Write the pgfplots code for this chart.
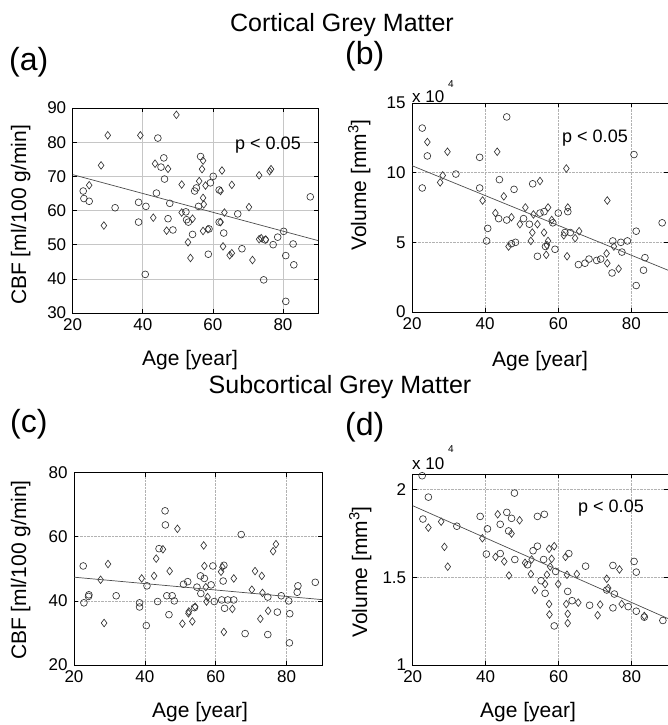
\documentclass[border=0pt]{standalone}
\usepackage{fontspec}
\setmainfont{Liberation Sans}
\usepackage{pgfplots}
\pgfplotsset{compat=1.18}

\newcommand{\fs}[1]{\fontsize{#1}{#1}\selectfont}

\pgfplotsset{
  panel/.style={
    scale only axis, anchor=south west,
    xmin=20, xmax=90, xtick={20,40,60,80},
    tick align=inside, major tick length=4pt,
    axis line style={black, line width=0.9pt},
    tick style={black, line width=0.6pt},
    ticklabel style={font=\fs{17}},
    yticklabel style={xshift=-3pt},
    xticklabel style={yshift=-2pt},
    /pgf/number format/assume math mode=true,
    grid=major, major grid style={gray!60, densely dotted, line width=0.6pt},
    clip mode=individual,
  },
  circ/.style={only marks, mark=o, mark size=3.4pt, mark options={black!80, line width=0.65pt}},
  diam/.style={only marks, mark=diamond, mark size=3.8pt, mark options={black!80, line width=0.65pt}},
  fitl/.style={black!70, line width=0.7pt, no markers},
}

\begin{document}
\begin{tikzpicture}
\path[use as bounding box] (0pt,0pt) rectangle (668pt,725pt);

% ---- titles and panel letters
\node[anchor=base, font=\fs{25}] at (342pt,693pt) {Cortical Grey Matter};
\node[anchor=base, font=\fs{25}] at (340pt,331pt) {Subcortical Grey Matter};
\node[anchor=base west, inner sep=0pt, font=\fs{32}] at (9pt,654pt) {(a)};
\node[anchor=base west, inner sep=0pt, font=\fs{32}] at (345pt,660pt) {(b)};
\node[anchor=base west, inner sep=0pt, font=\fs{32}] at (10pt,292pt) {(c)};
\node[anchor=base west, inner sep=0pt, font=\fs{32}] at (345pt,289pt) {(d)};

% ---- (a) cortical CBF
\begin{axis}[panel, at={(72.7pt,412pt)}, width=245.3pt, height=205pt,
  ymin=30, ymax=90, ytick={30,40,...,90},
  major grid style={gray!45, solid, line width=0.6pt}]
\addplot[circ] coordinates {
(44.3,81.2) (56.5,75.8) (46.0,75.4) (45.2,72.7) (46.2,69.2) (60.1,70.0) (59.3,68.1)
(55.3,66.6) (61.8,66.0) (43.9,65.1) (54.8,65.7) (23.0,65.7) (23.2,63.5) (24.7,62.7)
(32.1,60.8) (38.8,62.4) (40.9,61.2) (55.9,61.2) (47.7,62.1) (52.3,59.6) (67.1,59.0)
(87.8,64.0) (38.8,56.6) (47.2,57.6) (52.5,57.3) (53.0,56.6) (48.6,54.3) (58.9,54.6)
(61.8,56.6) (54.2,53.0) (63.1,53.4) (58.7,47.2) (68.3,48.8) (74.9,51.4) (77.2,50.0)
(78.5,52.2) (80.2,53.9) (82.9,50.2) (80.8,46.8) (83.1,44.1) (74.5,39.7) (40.7,41.3)
(80.8,33.4)};
\addplot[diam] coordinates {
(49.6,88.0) (30.0,82.0) (39.3,82.0) (57.2,74.6) (28.1,73.2) (43.5,73.7) (47.2,72.2)
(56.9,72.1) (62.6,71.7) (76.6,72.1) (76.2,71.5) (73.2,70.3) (56.1,68.6) (51.1,67.6)
(57.9,67.3) (62.2,65.7) (65.4,67.5) (24.7,67.4) (57.2,63.7) (57.4,61.8) (51.1,59.4)
(63.3,59.4) (70.3,61.0) (28.9,55.6) (43.0,57.9) (54.2,57.6) (46.8,54.1) (57.2,54.0)
(58.6,54.5) (62.2,56.6) (52.9,50.7) (62.9,49.5) (53.6,46.1) (64.8,46.9) (65.4,47.5)
(71.3,45.5) (73.2,51.6) (73.8,51.9) (75.1,51.5)};
\addplot[fitl] coordinates {(20,70.5) (90,51.2)};
\end{axis}

% ---- (b) cortical volume (x 10^4)
\begin{axis}[panel, at={(412pt,413pt)}, width=256pt, height=209pt,
  ymin=0, ymax=15, ytick={0,5,10,15}]
\addplot[circ] coordinates {
(22.8,13.2) (24.2,11.2) (22.8,8.9) (45.9,14.0) (38.5,11.1) (80.7,11.3) (32.0,9.9)
(43.9,9.5) (38.5,8.9) (47.9,8.8) (53.0,9.2) (88.4,6.4) (81.3,5.8) (40.7,6.0) (40.4,5.1)
(43.7,6.7) (45.9,6.6) (50.5,6.7) (52.1,6.3) (55.0,7.1) (56.1,7.2) (58.5,6.4) (60.0,7.1)
(62.6,7.2) (56.5,4.7) (59.1,4.5) (54.3,4.0) (47.2,4.9) (48.3,5.0) (61.8,5.7) (63.3,5.7)
(65.5,3.4) (67.3,3.5) (68.4,3.8) (70.5,3.7) (71.6,3.8) (74.7,2.8) (74.9,5.1) (77.1,5.0)
(77.4,4.3) (78.9,5.1) (83.7,3.9) (83.3,3.0) (81.3,1.9)};
\addplot[diam] coordinates {
(24.2,12.2) (29.7,11.5) (43.3,11.5) (28.4,9.8) (27.7,9.3) (62.2,10.3) (39.3,8.0)
(45.1,8.3) (55.0,9.4) (73.4,8.0) (42.8,7.1) (47.2,6.8) (51.0,7.5) (49.5,6.3) (53.2,7.0)
(57.2,7.5) (54.3,6.3) (52.9,5.7) (56.1,5.7) (58.2,6.6) (62.6,7.5) (52.5,5.1) (57.2,5.1)
(56.9,4.8) (56.7,4.1) (46.4,4.7) (61.5,5.5) (65.7,5.8) (64.6,5.3) (62.4,4.0) (73.2,4.2)
(73.4,3.5) (76.5,3.1) (75.2,4.7)};
\addplot[fitl] coordinates {(20,10.5) (90,3.0)};
\end{axis}

% ---- (c) subcortical CBF
\begin{axis}[panel, at={(74pt,60pt)}, width=248pt, height=192.3pt,
  ymin=20, ymax=80, ytick={20,40,60,80}]
\addplot[circ] coordinates {
(22.6,50.9) (22.8,39.4) (24.2,41.9) (24.1,41.4) (31.9,41.6) (38.5,39.4) (38.5,38.1)
(40.6,44.7) (40.4,32.3) (44.0,56.3) (45.7,68.1) (45.8,63.7) (43.6,39.8) (46.2,41.6)
(47.7,41.6) (48.3,40.0) (46.8,35.7) (50.9,45.2) (52.1,46.0) (54.0,37.9) (54.7,44.3)
(55.7,47.8) (56.8,47.0) (59.2,50.9) (55.8,42.3) (58.7,45.0) (59.6,39.8) (62.3,51.1)
(62.1,46.2) (61.7,40.3) (63.4,40.3) (65.1,40.3) (62.5,37.7) (67.2,60.7) (68.3,29.8)
(74.7,41.2) (77.4,36.5) (74.7,29.5) (78.5,41.6) (80.6,40.0) (80.9,36.0) (80.8,26.9)
(83.2,44.7) (83.0,42.7) (88.1,45.8)};
\addplot[diam] coordinates {
(29.6,51.5) (27.5,46.6) (28.5,33.1) (39.1,47.0) (42.6,47.8) (43.2,53.2) (45.1,56.1)
(49.2,62.5) (47.0,49.3) (50.6,32.9) (52.4,36.7) (52.3,36.1) (54.2,38.2) (53.4,33.6)
(56.6,57.3) (56.8,50.9) (57.2,44.3) (57.4,39.8) (57.7,41.2) (61.9,50.5) (61.5,49.1)
(65.1,47.0) (64.7,37.5) (62.3,30.3) (71.1,49.3) (73.0,47.8) (70.2,43.5) (73.2,42.5)
(72.6,34.4) (74.8,36.9) (77.0,57.7) (76.2,55.5)};
\addplot[fitl] coordinates {(20,47.4) (90,40.4)};
\end{axis}

% ---- (d) subcortical volume (x 10^4)
\begin{axis}[panel, at={(412.7pt,60pt)}, width=255.3pt, height=191pt,
  ymin=1, ymax=2.09, ytick={1,1.5,2}]
\addplot[circ] coordinates {
(22.6,2.080) (24.3,1.958) (22.8,1.833) (32.1,1.792) (38.5,1.848) (40.5,1.777)
(40.2,1.633) (45.8,1.871) (44.0,1.803) (47.1,1.837) (47.9,1.981) (46.3,1.765)
(44.0,1.636) (48.0,1.602) (51.5,1.572) (53.0,1.652) (54.2,1.678) (54.2,1.848)
(56.1,1.860) (55.9,1.602) (59.2,1.534) (55.2,1.481) (56.3,1.409) (58.8,1.223)
(62.8,1.636) (62.5,1.420) (63.7,1.367) (67.4,1.564) (68.5,1.341) (73.2,1.428)
(74.9,1.568) (75.3,1.405) (74.9,1.326) (79.1,1.333) (81.3,1.307) (80.7,1.591)
(81.3,1.530) (83.5,1.273) (88.6,1.254)};
\addplot[diam] coordinates {
(24.3,1.784) (27.8,1.818) (28.7,1.674) (29.6,1.561) (39.1,1.723) (42.7,1.617)
(43.3,1.860) (49.3,1.826) (47.1,1.750) (45.1,1.591) (46.4,1.511) (50.8,1.583)
(52.4,1.519) (52.6,1.602) (57.4,1.663) (58.8,1.678) (58.1,1.606) (57.7,1.561)
(56.8,1.515) (56.3,1.462) (53.5,1.428) (57.4,1.348) (57.5,1.288) (59.9,1.462)
(61.9,1.617) (62.3,1.515) (65.0,1.519) (62.1,1.348) (65.4,1.356) (62.5,1.292)
(62.5,1.239) (70.7,1.284) (71.4,1.345) (73.2,1.492) (73.6,1.439) (76.7,1.545)
(77.3,1.348) (83.5,1.280)};
\addplot[fitl] coordinates {(20,1.909) (90,1.265)};
\end{axis}

% ---- p-values
\node[anchor=base, font=\fs{18}] at (268pt,575pt) {p < 0.05};
\node[anchor=base, font=\fs{18}] at (595pt,582pt) {p < 0.05};
\node[anchor=base, font=\fs{18}] at (611pt,212pt) {p < 0.05};

% ---- scale factors
\node[anchor=base west, inner sep=0pt, font=\fs{17}] at (412pt,622pt) {x 10};
\node[anchor=base west, inner sep=0pt, font=\fs{10}] at (448pt,637pt) {4};
\node[anchor=base west, inner sep=0pt, font=\fs{17}] at (412pt,255pt) {x 10};
\node[anchor=base west, inner sep=0pt, font=\fs{10}] at (448pt,272pt) {4};

% ---- axis labels
\node[anchor=base, font=\fs{21}] at (190pt,359pt) {Age [year]};
\node[anchor=base, font=\fs{21}] at (540pt,358pt) {Age [year]};
\node[anchor=base, font=\fs{21}] at (200pt,8pt) {Age [year]};
\node[anchor=base, font=\fs{21}] at (528pt,7pt) {Age [year]};
\node[anchor=base, rotate=90, inner sep=0pt, font=\fs{21}] at (26pt,510pt) {CBF [ml/100 g/min]};
\node[anchor=base, rotate=90, inner sep=0pt, font=\fs{21}] at (26pt,155pt) {CBF [ml/100 g/min]};
\node[anchor=base, rotate=90, inner sep=0pt, font=\fs{21}] at (366pt,540pt) {Volume [mm\textsuperscript{3}]};
\node[anchor=base, rotate=90, inner sep=0pt, font=\fs{21}] at (367pt,153pt) {Volume [mm\textsuperscript{3}]};
\end{tikzpicture}
\end{document}
